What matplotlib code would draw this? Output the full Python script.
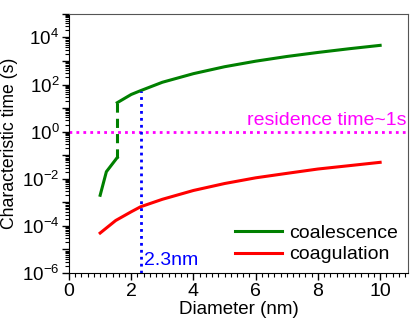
import numpy as np
import matplotlib.pyplot as plt
from matplotlib.ticker import LogLocator, MultipleLocator, FuncFormatter, NullFormatter

plt.rcParams['font.family'] = ['Liberation Sans', 'DejaVu Sans']

# coalescence time (s), lower branch / dashed jump / upper branch
d_coal_lo = [1.0, 1.2, 1.55]
t_coal_lo = [2e-3, 2e-2, 8e-2]
d_coal_hi = [1.55, 2.0, 2.3, 3.0, 4.0, 5.0, 6.0, 7.0, 8.0, 9.0, 10.0]
t_coal_hi = [17, 38, 55, 125, 290, 570, 980, 1550, 2300, 3300, 4600]

# coagulation time (s)
d_coag = [1.0, 1.5, 2.0, 2.3, 3.0, 4.0, 5.0, 6.0, 7.0, 8.0, 9.0, 10.0]
t_coag = [5e-5, 1.7e-4, 4e-4, 6.5e-4, 1.35e-3, 3.2e-3, 6.3e-3, 0.011, 0.017, 0.026, 0.036, 0.05]

d_mark = 2.3
t_residence = 1.0

fig = plt.figure(figsize=(4.11, 3.22), dpi=100)
ax = fig.add_axes([0.168, 0.152, 0.825, 0.805])

ax.plot(d_coal_lo, t_coal_lo, color='green', lw=2.2)
ax.plot([d_coal_lo[-1], d_coal_hi[0]], [t_coal_lo[-1], t_coal_hi[0]], color='green', lw=2.2, ls=(0, (3, 2)))
ax.plot(d_coal_hi, t_coal_hi, color='green', lw=2.2, label='coalescence')
ax.plot(d_coag, t_coag, color='red', lw=2.2, label='coagulation')

ax.axhline(t_residence, color='magenta', lw=2, ls=(0, (1, 1.5)))
ax.plot([d_mark, d_mark], [1e-6, np.interp(d_mark, d_coal_hi, t_coal_hi)], color='blue', lw=2, ls=(0, (1, 1.5)))

ax.text(10.85, 1.3, 'residence time~1s', color='magenta', fontsize=14, ha='right', va='bottom')
ax.text(2.42, 1.5e-6, '2.3nm', color='blue', fontsize=14, ha='left', va='bottom')


def even_decades(v, pos):
    k = int(round(np.log10(v)))
    return r'$\mathregular{10^{%d}}$' % k if k % 2 == 0 else ''


ax.set_yscale('log')
ax.set_xlim(0, 10.9)
ax.set_ylim(1e-6, 1e5)
ax.xaxis.set_major_locator(MultipleLocator(2))
ax.xaxis.set_minor_locator(MultipleLocator(0.2))
ax.yaxis.set_major_locator(LogLocator(base=10, numticks=30))
ax.yaxis.set_major_formatter(FuncFormatter(even_decades))
ax.yaxis.set_minor_locator(LogLocator(base=10, subs=np.arange(2, 10), numticks=30))
ax.yaxis.set_minor_formatter(NullFormatter())
ax.tick_params(which='both', direction='out')
ax.tick_params(axis='x', labelsize=14, pad=2)
ax.tick_params(axis='y', labelsize=13.5, pad=2)
ax.tick_params(which='major', length=5, width=1)
ax.tick_params(which='minor', length=3, width=0.8)

for s in ['top', 'right']:
    ax.spines[s].set_color('#555555')
ax.set_xlabel('Diameter (nm)', fontsize=13.5, labelpad=1)
ax.set_ylabel('Characteristic time (s)', fontsize=12.7)
ax.yaxis.set_label_coords(-0.15, 0.5)

ax.legend(loc='lower right', frameon=False, fontsize=14, handlelength=2.4,
          borderaxespad=0.1, labelspacing=0.2, handletextpad=0.4)

fig.savefig('out.png', dpi=100)
